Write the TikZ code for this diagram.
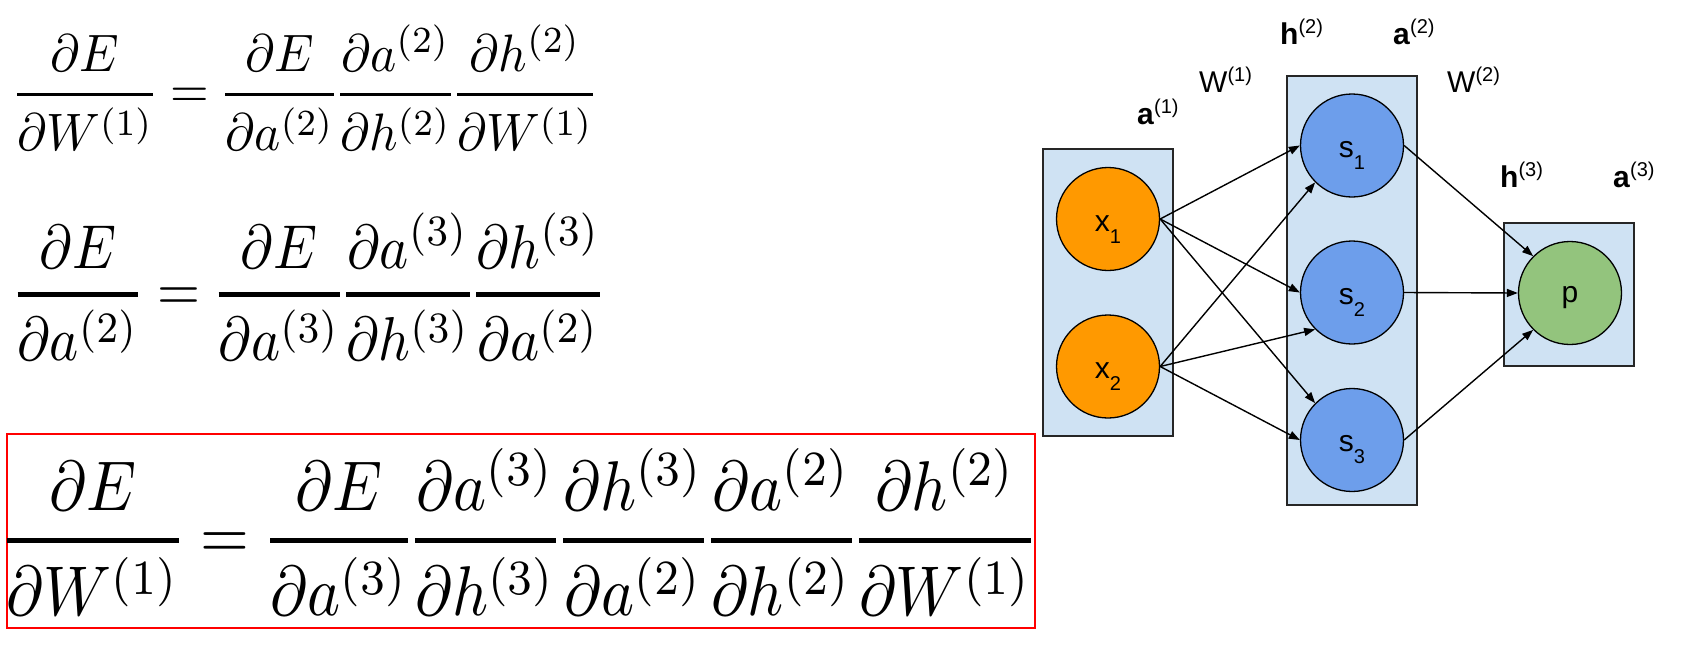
\documentclass[tikz,border=0pt]{standalone}
\usepackage[no-math]{fontspec}
\usepackage{graphicx}
\usepackage{amsmath}
\newfontfamily\arial{Liberation Sans}
\usetikzlibrary{arrows.meta}
\definecolor{boxblue}{HTML}{CFE2F3}
\definecolor{nodeorange}{HTML}{FF9900}
\definecolor{nodeblue}{HTML}{6D9EEB}
\definecolor{nodegreen}{HTML}{93C47D}
\definecolor{eqred}{HTML}{FF0000}
\newcommand{\mysup}[1]{\raisebox{11pt}{\fontsize{20}{20}\selectfont\mdseries(#1)}}
\newcommand{\mysub}[1]{\raisebox{-12pt}{\fontsize{20}{20}\selectfont #1}}
\newcommand{\fr}[2]{\genfrac{}{}{0.7pt}{0}{#1}{#2}}
\tikzset{
  layerbox/.style={draw=black!85, fill=boxblue, line width=1.3pt, inner sep=0pt},
  neuron/.style={circle, draw=black, line width=1.3pt, minimum size=103pt, inner sep=0pt},
  lbl/.style={inner sep=0pt, anchor=base west, font=\arial\fontsize{30}{30}\selectfont},
  ntext/.style={inner sep=0pt, anchor=base, font=\arial\fontsize{30}{30}\selectfont},
  conn/.style={-{Triangle[length=11pt,width=8pt]}, line width=1.4pt},
  eqnode/.style={inner sep=0pt, anchor=north west}
}
\begin{document}
\begin{tikzpicture}[x=1pt,y=-1pt]
\useasboundingbox (0,0) rectangle (1694,659);
\nulldelimiterspace=0.6pt
% equations
\node[eqnode] (eq1) at (14,25) {\resizebox*{582pt}{125pt}{$\displaystyle \fr{\partial E}{\partial W^{(1)}} = \fr{\partial E}{\partial a^{(2)}}\fr{\partial a^{(2)}}{\partial h^{(2)}}\fr{\partial h^{(2)}}{\partial W^{(1)}}$}};
\node[eqnode] (eq2) at (14,213) {\resizebox*{589pt}{147pt}{$\displaystyle \fr{\partial E}{\partial a^{(2)}} = \fr{\partial E}{\partial a^{(3)}}\fr{\partial a^{(3)}}{\partial h^{(3)}}\fr{\partial h^{(3)}}{\partial a^{(2)}}$}};
\node[draw=eqred, line width=2pt, minimum width=1028pt, minimum height=194pt, inner sep=0pt] (rb) at (521,531) {};
\node[eqnode] (eq3) at (3,448) {\resizebox*{1032pt}{167pt}{$\displaystyle \fr{\partial E}{\partial W^{(1)}} = \fr{\partial E}{\partial a^{(3)}}\fr{\partial a^{(3)}}{\partial h^{(3)}}\fr{\partial h^{(3)}}{\partial a^{(2)}}\fr{\partial a^{(2)}}{\partial h^{(2)}}\fr{\partial h^{(2)}}{\partial W^{(1)}}$}};
% layer boxes
\node[layerbox, minimum width=130pt, minimum height=287pt] (L1) at (1108,292.5) {};
\node[layerbox, minimum width=130pt, minimum height=429pt] (L2) at (1352,290.5) {};
\node[layerbox, minimum width=130pt, minimum height=143pt] (L3) at (1569,294.5) {};
% neurons
\node[neuron, fill=nodeorange] (x1) at (1108,219) {};
\node[neuron, fill=nodeorange] (x2) at (1108,366.5) {};
\node[neuron, fill=nodeblue] (s1) at (1352,145.5) {};
\node[neuron, fill=nodeblue] (s2) at (1352,292.5) {};
\node[neuron, fill=nodeblue] (s3) at (1352,440) {};
\node[neuron, fill=nodegreen] (p) at (1570,293) {};
\node[ntext] (x1t) at (1108,231) {x\mysub{1}};
\node[ntext] (x2t) at (1108,378.5) {x\mysub{2}};
\node[ntext] (s1t) at (1352,157) {s\mysub{1}};
\node[ntext] (s2t) at (1352,304) {s\mysub{2}};
\node[ntext] (s3t) at (1352,451.5) {s\mysub{3}};
\node[ntext] (pt) at (1570,302) {p};
% connectors
\draw[conn] (x1.east) -- (s1.west);
\draw[conn] (x1.east) -- (s2.west);
\draw[conn] (x1.east) -- (s3.north west);
\draw[conn] (x2.east) -- (s1.south west);
\draw[conn] (x2.east) -- (s2.south west);
\draw[conn] (x2.east) -- (s3.west);
\draw[conn] (s1.east) -- (p.north west);
\draw[conn] (s2.east) -- (p.west);
\draw[conn] (s3.east) -- (p.south west);
% labels
\node[lbl] (a1) at (1137,124.5) {\textbf{a}\mysup{1}};
\node[lbl] (w1) at (1199,92) {W\mysup{1}};
\node[lbl] (h2) at (1280,44.5) {\textbf{h}\mysup{2}};
\node[lbl] (a2) at (1393,44.5) {\textbf{a}\mysup{2}};
\node[lbl] (w2) at (1447,92) {W\mysup{2}};
\node[lbl] (h3) at (1500,187) {\textbf{h}\mysup{3}};
\node[lbl] (a3) at (1613,187) {\textbf{a}\mysup{3}};
\end{tikzpicture}
\end{document}
